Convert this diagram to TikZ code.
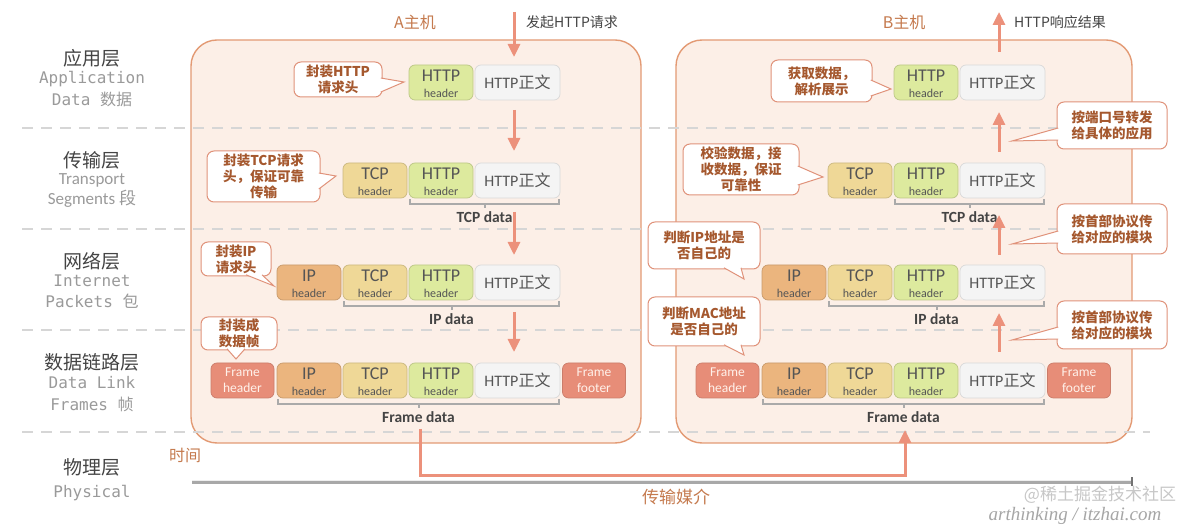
\documentclass[tikz,border=0pt]{standalone}
\usepackage{fontspec}
\setmainfont{Carlito}
\newfontfamily\cjk{Noto Sans CJK SC}
\newfontfamily\mono{DejaVu Sans Mono}
\newfontfamily\wmfont{Liberation Serif}
\usetikzlibrary{arrows.meta,calc}
\definecolor{boxfill}{HTML}{FCEFE7}
\definecolor{boxline}{HTML}{E39A74}
\definecolor{arr}{HTML}{EC917B}
\definecolor{calltext}{HTML}{A5582E}
\definecolor{calline}{HTML}{E0927A}
\definecolor{dashc}{HTML}{D6D6D6}
\definecolor{framec}{HTML}{E78D78}
\definecolor{ipc}{HTML}{EBB57E}
\definecolor{tcpc}{HTML}{EFD897}
\definecolor{httpc}{HTML}{DDEA9E}
\definecolor{bodyc}{HTML}{F4F4F4}
\definecolor{labdark}{HTML}{444444}
\definecolor{labgray}{HTML}{9A9A9A}
\definecolor{hosttext}{HTML}{C57A4E}
\definecolor{celltext}{HTML}{555555}
\definecolor{frametext}{HTML}{FFF1EA}
\definecolor{brcc}{HTML}{AAAAAA}
\definecolor{axisc}{HTML}{A8A8A8}

\newcommand\pkcell[6]{%
  \node[cell, minimum width=#4, fill=#5, draw=#5!85!black] (#1) at (#2,#3) {};
  \node[font=\fontsize{18}{18}\selectfont, text=celltext] (#1-t) at ($(#1.center)+(0,-6.5)$) {#6};
  \node[font=\fontsize{12}{12}\selectfont, text=celltext] (#1-b) at ($(#1.center)+(0,10.5)$) {header};}
\newcommand\frcell[4]{%
  \node[cell, minimum width=63, fill=framec, draw=framec!88!black] (#1) at (#2,#3) {};
  \node[font=\fontsize{13.5}{13.5}\selectfont, text=frametext] (#1-t) at ($(#1.center)+(0,-8)$) {Frame};
  \node[font=\fontsize{13.5}{13.5}\selectfont, text=frametext] (#1-b) at ($(#1.center)+(0,7)$) {#4};}
\newcommand\bdcell[3]{%
  \node[cell, minimum width=85, fill=bodyc, draw=black!15, text=celltext,
        font=\fontsize{16}{16}\selectfont] (#1) at (#2,#3) {HTTP{\cjk 正文}};}
\newcommand\pkbrace[4]{%
  \draw[brc] ($(#2.south west)+(1,1)$) -- ++(0,5) -- ($(#3.south east)+(-1,6)$) -- ++(0,-5);
  \coordinate (#1-m) at ($(#2.south west)!0.5!(#3.south east)+(0,6)$);
  \draw[brc] (#1-m) -- ++(0,4);
  \node[datalab] (#1) at ($(#1-m)+(0,13)$) {#4};}
\newcommand\calltail[4]{%
  \coordinate (#1-p) at (#2); \coordinate (#1-t) at (#3); \coordinate (#1-q) at (#4);
  \fill[white] (#1-p) -- (#1-t) -- (#1-q) -- cycle;
  \draw[tailline] (#1-p) -- (#1-t) -- (#1-q);}

\begin{document}
\begin{tikzpicture}[x=1pt,y=-1pt,
  cell/.style={rounded corners=6pt, minimum height=35, inner sep=0pt, line width=0.7pt},
  hostbox/.style={draw=boxline, fill=boxfill, line width=1.4pt, rounded corners=26pt, inner sep=0pt},
  dashline/.style={draw=dashc, line width=2.6pt, dash pattern=on 11pt off 8pt},
  brc/.style={draw=brcc, line width=2pt},
  datalab/.style={font=\bfseries\fontsize{15.5}{15.5}\selectfont, text=labdark},
  flow/.style={draw=arr, line width=3pt, -{Triangle[width=12pt,length=13pt]}},
  callbox/.style={draw=calline, fill=white, rounded corners=7pt, line width=1pt, text=calltext,
    font={\cjk\bfseries\fontsize{13.5}{16}\selectfont}, align=center, inner sep=0pt},
  tailline/.style={draw=calline, line width=1pt, line join=miter},
  laycn/.style={font={\cjk\fontsize{19}{19}\selectfont}, text=labdark},
  layen/.style={font={\mono\fontsize{16}{16}\selectfont}, text=labgray},
  layen2/.style={font={\fontsize{17}{17}\selectfont}, text=labgray},
  hostlab/.style={font={\cjk\fontsize{16}{16}\selectfont}, text=hosttext},
  toplab/.style={font={\cjk\fontsize{14}{14}\selectfont}, text=labdark}
]
\useasboundingbox (0,0) rectangle (1200,526);
\fill[white] (0,0) rectangle (1200,526);

% host boxes
\node[hostbox, minimum width=450, minimum height=403] (hostA) at (416,241.5) {};
\node[hostbox, minimum width=456, minimum height=403] (hostB) at (904,241.5) {};

% layer separators
\foreach \yy in {128,229,330,432} \draw[dashline] (22,\yy) -- (1150,\yy);

% layer labels
\node[laycn] (L1) at (92,58) {应用层};
\node[layen] (L1a) at (92,79) {Application};
\node[layen] (L1b) at (92,99) {Data {\cjk 数据}};
\node[laycn] (L2) at (92,160) {传输层};
\node[layen2] (L2a) at (92,180) {Transport};
\node[layen2] (L2b) at (92,199) {Segments {\cjk 段}};
\node[laycn] (L3) at (92,261) {网络层};
\node[layen] (L3a) at (92,281) {Internet};
\node[layen] (L3b) at (92,301) {Packets {\cjk 包}};
\node[laycn] (L4) at (92,362) {数据链路层};
\node[layen] (L4a) at (92,383) {Data Link};
\node[layen] (L4b) at (92,404) {Frames {\cjk 帧}};
\node[laycn] (L5) at (92,467) {物理层};
\node[layen] (L5a) at (92,493) {Physical};

% host titles
\node[hostlab] (hAl) at (415,22) {A主机};
\node[hostlab] (hBl) at (904,22) {B主机};
\node[toplab] (req) at (572,22) {发起HTTP请求};
\node[toplab] (resp) at (1060,22) {HTTP响应结果};

% ---- host A packets
\pkcell{A1h}{441}{82.5}{64}{httpc}{HTTP}
\bdcell{A1b}{517.5}{82.5}
\pkcell{A2t}{375}{180.5}{64}{tcpc}{TCP}
\pkcell{A2h}{441}{180.5}{64}{httpc}{HTTP}
\bdcell{A2b}{517.5}{180.5}
\pkcell{A3i}{309}{282.5}{64}{ipc}{IP}
\pkcell{A3t}{375}{282.5}{64}{tcpc}{TCP}
\pkcell{A3h}{441}{282.5}{64}{httpc}{HTTP}
\bdcell{A3b}{517.5}{282.5}
\frcell{A4f}{242.5}{380.5}{header}
\pkcell{A4i}{309}{380.5}{64}{ipc}{IP}
\pkcell{A4t}{375}{380.5}{64}{tcpc}{TCP}
\pkcell{A4h}{441}{380.5}{64}{httpc}{HTTP}
\bdcell{A4b}{517.5}{380.5}
\frcell{A4g}{594}{380.5}{footer}
\pkbrace{dA2}{A2h}{A2b}{TCP data}
\pkbrace{dA3}{A3t}{A3b}{IP data}
\pkbrace{dA4}{A4i}{A4b}{Frame data}

% ---- host B packets
\pkcell{B1h}{926}{82.5}{64}{httpc}{HTTP}
\bdcell{B1b}{1002.5}{82.5}
\pkcell{B2t}{860}{180.5}{64}{tcpc}{TCP}
\pkcell{B2h}{926}{180.5}{64}{httpc}{HTTP}
\bdcell{B2b}{1002.5}{180.5}
\pkcell{B3i}{794}{282.5}{64}{ipc}{IP}
\pkcell{B3t}{860}{282.5}{64}{tcpc}{TCP}
\pkcell{B3h}{926}{282.5}{64}{httpc}{HTTP}
\bdcell{B3b}{1002.5}{282.5}
\frcell{B4f}{727.5}{380.5}{header}
\pkcell{B4i}{794}{380.5}{64}{ipc}{IP}
\pkcell{B4t}{860}{380.5}{64}{tcpc}{TCP}
\pkcell{B4h}{926}{380.5}{64}{httpc}{HTTP}
\bdcell{B4b}{1002.5}{380.5}
\frcell{B4g}{1079}{380.5}{footer}
\pkbrace{dB2}{B2h}{B2b}{TCP data}
\pkbrace{dB3}{B3t}{B3b}{IP data}
\pkbrace{dB4}{B4i}{B4b}{Frame data}

% ---- arrows A (down)
\coordinate (a0s) at (514,12);  \coordinate (a0e) at (514,57);
\coordinate (a1s) at (514,110); \coordinate (a1e) at (514,151);
\coordinate (a2s) at (514,212); \coordinate (a2e) at (514,255);
\coordinate (a3s) at (514,312); \coordinate (a3e) at (514,352);
\draw[flow] (a0s) -- (a0e);
\draw[flow] (a1s) -- (a1e);
\draw[flow] (a2s) -- (a2e);
\draw[flow] (a3s) -- (a3e);
% ---- arrows B (up)
\coordinate (b0s) at (999,52);  \coordinate (b0e) at (999,12);
\coordinate (b1s) at (999,152); \coordinate (b1e) at (999,112);
\coordinate (b2s) at (999,255); \coordinate (b2e) at (999,215);
\coordinate (b3s) at (999,352); \coordinate (b3e) at (999,313);
\draw[flow] (b0s) -- (b0e);
\draw[flow] (b1s) -- (b1e);
\draw[flow] (b2s) -- (b2e);
\draw[flow] (b3s) -- (b3e);

% ---- physical medium
\coordinate (axL) at (192,482); \coordinate (axR) at (1132,482);
\draw[draw=axisc, line width=4.5pt] (axL) -- (axR);
\draw[draw=white!80!axisc, line width=1pt] (192,480.2) -- (1132,480.2);
\draw[draw=black!55, line width=1.2pt] (1132,477.5) -- (1132,486.5);
\coordinate (r0) at (420,429);
\coordinate (r1) at (420,476);
\coordinate (r2) at (905,476);
\coordinate (r3) at (905,430);
\draw[flow, line join=miter] (r0) -- (r1) -- (r2) -- (r3);
\node[font={\cjk\fontsize{16}{16}\selectfont}, text=hosttext] (tm) at (185,455) {时间};
\node[font={\cjk\fontsize{17}{17}\selectfont}, text=hosttext] (medium) at (676,497) {传输媒介};

% ---- callouts A
\node[callbox, minimum width=88, minimum height=35] (c1) at (338,79.5) {封装HTTP\\请求头};
\calltail{c1}{380.8,78}{404,82}{380.8,92}
\node[callbox, minimum width=113, minimum height=51] (c2) at (263.5,176.5) {封装TCP请求\\头，保证可靠\\传输};
\calltail{c2}{318.8,173}{336,176}{318.8,189}
\node[callbox, minimum width=70, minimum height=34] (c3) at (236,259) {封装IP\\请求头};
\calltail{c3}{246,274.8}{274,286}{262,274.8}
\node[callbox, minimum width=76, minimum height=33] (c4) at (239,333.5) {封装成\\数据帧};
\calltail{c4}{227,348.8}{236,359}{245,348.8}

% ---- callouts B
\node[callbox, minimum width=101, minimum height=42] (c5) at (821.5,81) {获取数据，\\解析展示};
\calltail{c5}{870.8,80}{891,89}{870.8,96}
\node[callbox, minimum width=116, minimum height=51] (c6) at (741,169.5) {校验数据，接\\收数据，保证\\可靠性};
\calltail{c6}{797.8,166}{823,177}{797.8,185}
\node[callbox, minimum width=112, minimum height=47] (c7) at (704,245.5) {判断IP地址是\\否自己的};
\calltail{c7}{724,267.8}{744,279}{741,267.8}
\node[callbox, minimum width=112, minimum height=49] (c8) at (704,321.5) {判断MAC地址\\是否自己的};
\calltail{c8}{724,344.8}{744,355}{741,344.8}
\node[callbox, minimum width=110, minimum height=47] (c9) at (1112,125.5) {按端口号转发\\给具体的应用};
\calltail{c9}{1058.2,128}{1012,141}{1058.2,140}
\node[callbox, minimum width=110, minimum height=50] (c10) at (1112,229) {按首部协议传\\给对应的模块};
\calltail{c10}{1058.2,231}{1012,244}{1058.2,243}
\node[callbox, minimum width=110, minimum height=48] (c11) at (1112,325) {按首部协议传\\给对应的模块};
\calltail{c11}{1058.2,327}{1012,340}{1058.2,339}

% ---- watermarks
\node[font={\cjk\fontsize{17}{17}\selectfont}, text=black!22] (wm1) at (1100,495) {@稀土掘金技术社区};
\node[font={\wmfont\itshape\fontsize{19}{19}\selectfont}, text=black!35] (wm2) at (1075,516) {arthinking / itzhai.com};
\end{tikzpicture}
\end{document}
